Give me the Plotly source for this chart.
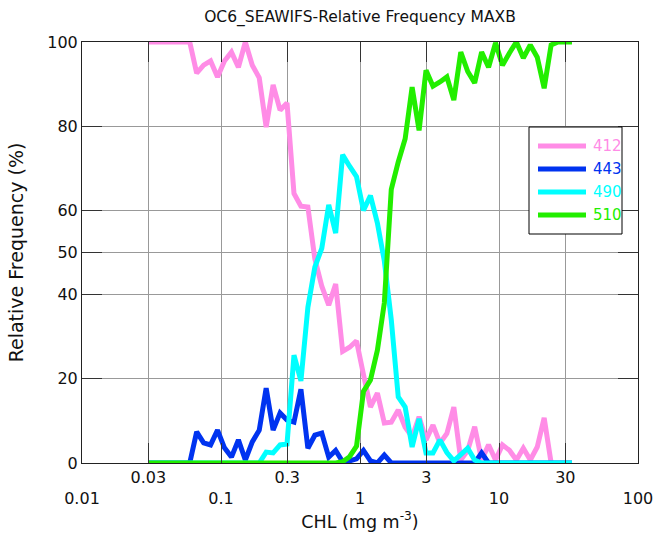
import plotly.graph_objects as go

# Bin centres of chlorophyll (mg m^-3)
chl = [0.02985, 0.03350, 0.03758, 0.04217, 0.04732, 0.05309, 0.05957, 0.06683,
       0.07499, 0.08414, 0.09441, 0.1059, 0.1189, 0.1334, 0.1496, 0.1679,
       0.1884, 0.2113, 0.2371, 0.2661, 0.2985, 0.3350, 0.3758, 0.4217,
       0.4732, 0.5309, 0.5957, 0.6683, 0.7499, 0.8414, 0.9441, 1.059,
       1.189, 1.334, 1.496, 1.679, 1.884, 2.113, 2.371, 2.661,
       2.985, 3.350, 3.758, 4.217, 4.732, 5.309, 5.957, 6.683,
       7.499, 8.414, 9.441, 10.59, 11.89, 13.34, 14.96, 16.79,
       18.84, 21.13, 23.71, 26.61, 29.85, 33.50]

f412 = [100, 100, 100, 100, 100, 100, 100, 92.6, 94.5, 95.5, 91.7, 95.5, 97.6, 94,
        100, 94.5, 91.5, 79.8, 89.8, 83.8, 85.5, 64, 61, 60.8, 48.5, 42, 37.5, 42.5,
        26.5, 27.5, 29, 21, 13.3, 16.6, 9.5, 9.7, 12.6, 8.5, 6.2, 11, 5.5, 9, 4.7, 7,
        13.3, 0.7, 3, 8.6, 0.7, 4.3, 0.7, 4.3, 3, 0.7, 3.5, 0.7, 3.8, 10.7, 0,
        None, None, None]

f443 = [0, 0, 0, 0, 0, 0, 0, 7.4, 4.8, 4.3, 7.8, 3.6, 1.4, 5.5, 0.7, 5, 7.8, 17.8,
        7.8, 11.9, 10.2, 9.7, 17.5, 3.5, 6.6, 7.1, 1.4, 3, 0.3, 0.5, 1, 3, 0.5, 0,
        1.9, 0, 0, 0, 0, 0, 0, 0, 0, 0, 0, 0, 0, 0, 2.4, 0, 0, 0, 0, 0, 0, 0, 0, 0,
        0, 0, 0, 0]

f490 = [0, 0, 0, 0, 0, 0, 0, 0, 0, 0, 0, 0, 0, 0, 0, 0, 0, 2.6, 2.4, 4.3, 4.5,
        25.6, 19.5, 37, 46.5, 51, 61.3, 54.6, 73.2, 70.5, 68, 60, 63.5, 57, 48, 34,
        15.7, 13.3, 3.8, 10.5, 2.4, 2.4, 5.5, 2.5, 0.5, 2, 3.5, 0.7, 0, 0, 0, 0, 0,
        0, 0, 0, 0, 0, 0, 0, 0, 0]

f510 = [0, 0, 0, 0, 0, 0, 0, 0, 0, 0, 0, 0, 0, 0, 0, 0, 0, 0, 0, 0, 0, 0, 0, 0,
        0, 0, 0, 0, 0.3, 1.5, 4, 17, 19.7, 26.8, 38, 65, 71.5, 77, 89.3, 79, 93.3,
        89.5, 90.5, 91.7, 86.2, 97.6, 93, 90.3, 97.6, 94, 99.8, 94.5, 97.4, 100,
        96.2, 99.3, 96.4, 89, 99.3, 100, 100, 100]

series_names = ["412", "443", "490", "510"]
series_values = [f412, f443, f490, f510]
series_colors = ["#ff8ce6", "#0033f0", "#00ffff", "#22ee00"]

x_tickvals = [0.01, 0.03, 0.1, 0.3, 1, 3, 10, 30, 100]
x_ticklabels = ["0.01", "0.03", "0.1", "0.3", "1", "3", "10", "30", "100"]
y_tickvals = [0, 20, 40, 50, 60, 80, 100]

# stagger labels: decades on a second line
x_ticktext = [("&nbsp;<br>" + t) if t in ("0.01", "0.1", "1", "10", "100") else t
              for t in x_ticklabels]

FONT = "DejaVu Sans"
W, H = 656, 537
ML, MR, MT, MB = 82, 18, 42, 74
PW, PH = W - ML - MR, H - MT - MB


def px_to_paper_x(px):
    return (px - ML) / PW


def px_to_paper_y(py):
    return (H - MB - py) / PH


fig = go.Figure()
for name, vals, col in zip(series_names, series_values, series_colors):
    fig.add_trace(go.Scatter(
        x=chl, y=vals, mode="lines", name=name,
        line=dict(color=col, width=5), showlegend=False,
    ))

# custom legend box (longer line samples, coloured labels)
leg_left, leg_right, leg_top, leg_bottom = 529, 622, 127, 234
fig.add_shape(type="rect", xref="paper", yref="paper",
              x0=px_to_paper_x(leg_left), x1=px_to_paper_x(leg_right),
              y0=px_to_paper_y(leg_bottom), y1=px_to_paper_y(leg_top),
              line=dict(color="#000000", width=1), fillcolor="white", layer="above")
for k, (name, col) in enumerate(zip(series_names, series_colors)):
    yy = px_to_paper_y(146 + 23 * k)
    fig.add_shape(type="line", xref="paper", yref="paper",
                  x0=px_to_paper_x(538), x1=px_to_paper_x(586), y0=yy, y1=yy,
                  line=dict(color=col, width=5), layer="above")
    fig.add_annotation(xref="paper", yref="paper", x=px_to_paper_x(591), y=yy,
                       xanchor="left", yanchor="middle", text=name, showarrow=False,
                       font=dict(family=FONT, size=15, color=col))

axis_common = dict(
    showline=True, linecolor="#222222", linewidth=1, mirror="ticks",
    ticks="inside", ticklen=20, tickcolor="#333333", tickwidth=1,
    showgrid=True, gridcolor="#999999", gridwidth=1, zeroline=False,
    automargin=False,
    tickfont=dict(family=FONT, size=16, color="#111111"),
)

fig.update_layout(
    width=W, height=H,
    margin=dict(l=ML, r=MR, t=MT, b=MB, autoexpand=False),
    paper_bgcolor="white", plot_bgcolor="white",
    font=dict(family=FONT, size=15, color="#111111"),
    title=dict(text="OC6_SEAWIFS-Relative Frequency MAXB",
               x=0.5, xref="paper", y=1 - 17 / 537, yref="container",
               xanchor="center", yanchor="middle",
               font=dict(family=FONT, size=15.5, color="#111111")),
    xaxis=dict(type="log", range=[-2, 2], tickvals=x_tickvals, ticktext=x_ticktext,
               title=dict(text="CHL (mg m<sup>-3</sup>)", standoff=8,
                          font=dict(family=FONT, size=17.5)),
               **axis_common),
    yaxis=dict(range=[0, 100], tickvals=y_tickvals,
               title=dict(text="Relative Frequency (%)", standoff=18,
                          font=dict(family=FONT, size=19)),
               **axis_common),
    showlegend=False,
)

fig.write_html("out.html")
